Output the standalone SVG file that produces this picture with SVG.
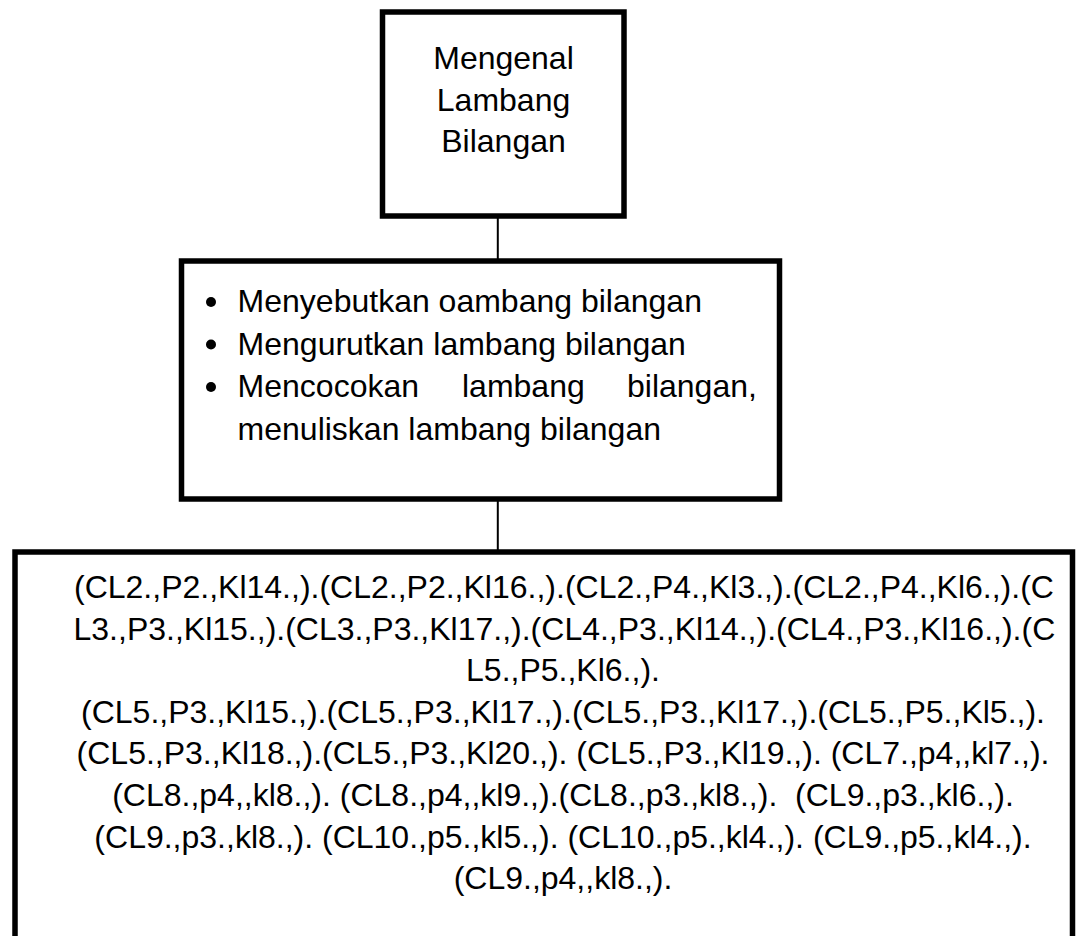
<svg xmlns="http://www.w3.org/2000/svg" width="1082" height="936" viewBox="0 0 1082 936">
<style>
.box{fill:#fff;stroke:#000;stroke-width:5.5}
.link{stroke:#000;stroke-width:2;fill:none}
text{font-family:"Liberation Sans",Arial,sans-serif;font-size:32px;fill:#000;white-space:pre}
.c{text-anchor:middle}
</style>
<rect width="1082" height="936" fill="#fff"/>
<g id="connectors">
<line class="link" x1="497.8" y1="216" x2="497.8" y2="261"/>
<line class="link" x1="497.8" y1="499" x2="497.8" y2="552"/>
</g>
<g id="node-top">
<rect class="box" x="382.5" y="12" width="241.5" height="204"/>
<text class="c" x="503.5" y="69">Mengenal</text>
<text class="c" x="503.5" y="110.5">Lambang</text>
<text class="c" x="503.5" y="152">Bilangan</text>
</g>
<g id="node-middle">
<rect class="box" x="181.5" y="261" width="598" height="238"/>
<circle cx="211" cy="302" r="5"/>
<circle cx="211" cy="344.5" r="5"/>
<circle cx="211" cy="387" r="5"/>
<text x="237.6" y="312">Menyebutkan oambang bilangan</text>
<text x="237.6" y="354.5">Mengurutkan lambang bilangan</text>
<text x="237.6" y="397">Mencocokan</text>
<text x="462" y="397">lambang</text>
<text x="627" y="397">bilangan,</text>
<text x="237.6" y="439.5">menuliskan lambang bilangan</text>
</g>
<g id="node-bottom">
<path class="box" d="M15,945 V552 H1072.5 V945"/>
<text x="74" y="598">(CL2.,P2.,Kl14.,).(CL2.,P2.,Kl16.,).(CL2.,P4.,Kl3.,).(CL2.,P4.,Kl6.,).(C</text>
<text x="73.5" y="639.6">L3.,P3.,Kl15.,).(CL3.,P3.,Kl17.,).(CL4.,P3.,Kl14.,).(CL4.,P3.,Kl16.,).(C</text>
<text class="c" x="563" y="681.2">L5.,P5.,Kl6.,).</text>
<text class="c" x="563" y="722.8">(CL5.,P3.,Kl15.,).(CL5.,P3.,Kl17.,).(CL5.,P3.,Kl17.,).(CL5.,P5.,Kl5.,).</text>
<text class="c" x="563" y="764.4">(CL5.,P3.,Kl18.,).(CL5.,P3.,Kl20.,). (CL5.,P3.,Kl19.,). (CL7.,p4,,kl7.,).</text>
<text class="c" x="563" y="806">(CL8.,p4,,kl8.,). (CL8.,p4,,kl9.,).(CL8.,p3.,kl8.,).  (CL9.,p3.,kl6.,).</text>
<text class="c" x="563" y="847.6">(CL9.,p3.,kl8.,). (CL10.,p5.,kl5.,). (CL10.,p5.,kl4.,). (CL9.,p5.,kl4.,).</text>
<text class="c" x="563" y="889.2">(CL9.,p4,,kl8.,).</text>
</g>
</svg>
